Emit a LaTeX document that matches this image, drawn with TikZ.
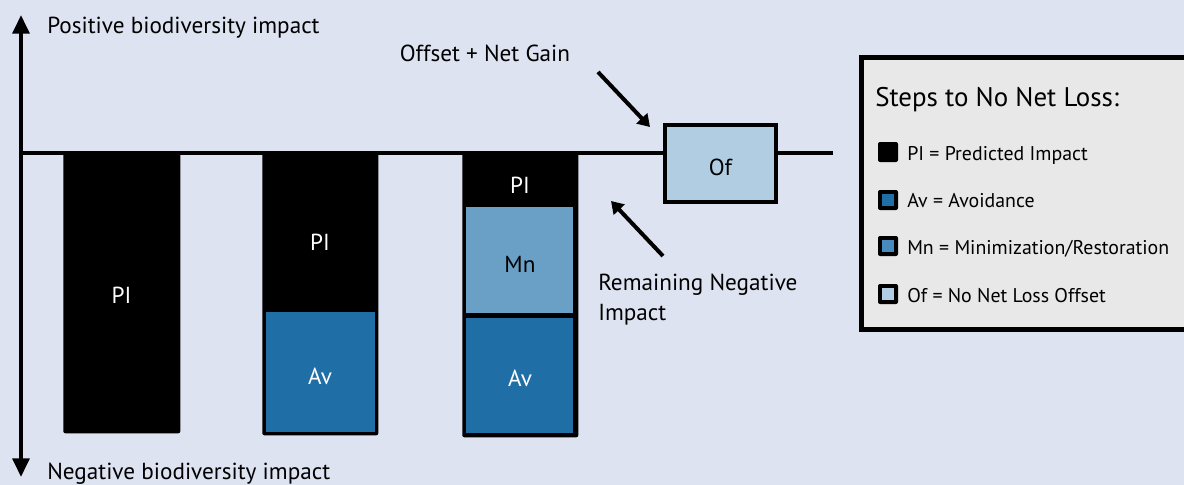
\documentclass[tikz,border=0pt]{standalone}
\usepackage{fontspec}
\setmainfont{PT Sans}
\usetikzlibrary{arrows.meta,positioning}
\definecolor{bgcol}{RGB}{221,227,240}
\definecolor{avcol}{RGB}{31,110,166}
\definecolor{mncol}{RGB}{106,160,198}
\definecolor{mnleg}{RGB}{70,138,190}
\definecolor{ofcol}{RGB}{177,205,226}
\definecolor{legbg}{RGB}{232,232,232}
\tikzset{
  lbl/.style={font=\fontsize{17.4}{22.5}\selectfont, inner sep=0pt, anchor=base},
  wlbl/.style={lbl, text=white},
  barbox/.style={fill=black, rounded corners=1.5pt, inner sep=0pt, anchor=north west},
  fillbox/.style={inner sep=0pt, anchor=north west},
  axisarrow/.style={line width=3pt, -{Triangle[length=14pt,width=12.5pt]}},
  pointer/.style={line width=3pt, -{Triangle[length=9pt,width=11pt]}},
  legsq/.style={fill=black, rounded corners=1.5pt, minimum size=15pt, inner sep=0pt},
  leginner/.style={minimum size=8.5pt, inner sep=0pt},
  legtxt/.style={font=\fontsize{14.9}{17}\selectfont, anchor=base west, inner sep=0pt},
}
\begin{document}
\begin{tikzpicture}[x=0.75pt,y=-0.75pt]
\useasboundingbox (0,0) rectangle (1184,485);
\fill[bgcol] (0,0) rectangle (1184,485);

% axis
\coordinate (axtop) at (21,15);
\coordinate (axbot) at (21,477);
\coordinate (axmid) at (21,153);
\coordinate (lineend) at (833,153);
\draw[axisarrow] (axmid) -- (axtop);
\draw[axisarrow] (axmid) -- (axbot);
\draw[line width=3.5pt] (axmid) -- (lineend);
\node[lbl, anchor=base west] (postxt) at (47,34) {Positive biodiversity impact};
\node[lbl, anchor=base west] (negtxt) at (47,479) {Negative biodiversity impact};

% bar 1
\node[barbox, minimum width=117*0.75pt, minimum height=282*0.75pt] (bar1) at (63,151) {};
\node[wlbl] (pi1) at (121.5,303) {PI};

% bar 2
\node[barbox, minimum width=116*0.75pt, minimum height=284*0.75pt] (bar2) at (262,151) {};
\node[fillbox, fill=avcol, minimum width=109*0.75pt, minimum height=120*0.75pt] (av2) at (266,312) {};
\node[wlbl] (pi2) at (320,250) {PI};
\node[wlbl] (avl2) at (320,384) {Av};

% bar 3
\node[barbox, minimum width=116*0.75pt, minimum height=286*0.75pt] (bar3) at (462,151) {};
\node[fillbox, fill=mncol, minimum width=107*0.75pt, minimum height=106*0.75pt] (mn3) at (466,207) {};
\node[fillbox, fill=avcol, minimum width=107*0.75pt, minimum height=115*0.75pt] (av3) at (466,318) {};
\node[wlbl] (pi3) at (520,193) {PI};
\node[lbl] (mnl3) at (520,272) {Mn};
\node[wlbl] (avl3) at (520,386) {Av};

% offset box
\node[draw, line width=3.5pt, fill=ofcol, minimum width=111*0.75pt, minimum height=77*0.75pt, inner sep=0pt] (of) at (720.5,163.5) {};
\node[lbl] (ofl) at (720.5,175) {Of};

% pointers
\node[lbl] (gain) at (485,62) {Offset + Net Gain};
\coordinate (gainstart) at (598,72);
\coordinate (gaintip) at (650,127);
\draw[pointer] (gainstart) -- (gaintip);

\node[lbl, anchor=base west] (remain1) at (598,290) {Remaining Negative};
\node[lbl, anchor=base west] (remain2) at (598,320) {Impact};
\coordinate (remstart) at (663,256);
\coordinate (remtip) at (611,201);
\draw[pointer] (remstart) -- (remtip);

% legend
\node[draw, line width=3.5pt, fill=legbg, anchor=north west, minimum width=340*0.75pt, minimum height=272*0.75pt, inner sep=0pt] (legend) at (859,55) {};
\node[anchor=base west, inner sep=0pt, font=\fontsize{20.2}{24}\selectfont] (legtitle) at (875,106) {Steps to No Net Loss:};

\node[legsq] (sq1) at (888,152) {};
\node[legtxt] (lt1) at (907,160) {PI = Predicted Impact};
\node[legsq] (sq2) at (888,200) {};
\node[leginner, fill=avcol] at (sq2.center) {};
\node[legtxt] (lt2) at (907,207) {Av = Avoidance};
\node[legsq] (sq3) at (888,246) {};
\node[leginner, fill=mnleg] at (sq3.center) {};
\node[legtxt] (lt3) at (907,254) {Mn = Minimization/Restoration};
\node[legsq] (sq4) at (888,294) {};
\node[leginner, fill=ofcol] at (sq4.center) {};
\node[legtxt] (lt4) at (907,302) {Of = No Net Loss Offset};
\end{tikzpicture}
\end{document}
